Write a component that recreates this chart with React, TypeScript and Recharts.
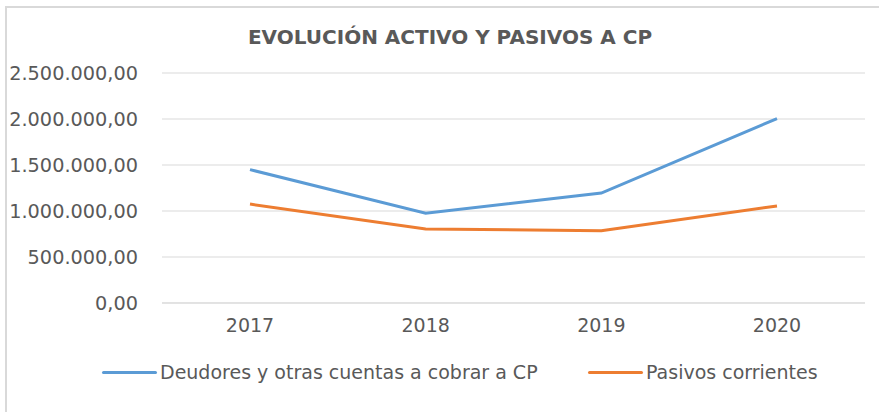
import React from 'react';
import { LineChart, Line, XAxis, YAxis, CartesianGrid } from 'recharts';

const years = ['2017', '2018', '2019', '2020'];
const deudores = [1450000, 975000, 1195000, 2005000];
const pasivos = [1075000, 805000, 785000, 1055000];
const yTicks = [0, 500000, 1000000, 1500000, 2000000, 2500000];

const data = years.map((year, i) => ({
    year,
    deudores: deudores[i],
    pasivos: pasivos[i],
}));

const FONT = '"DejaVu Sans", sans-serif';
const GREY = '#595959';

const formatEs = (v: number) =>
    v.toFixed(2).replace('.', ',').replace(/\B(?=(\d{3})+(?!\d))/g, '.');

const seriesLegend = [
    { label: 'Deudores y otras cuentas a cobrar a CP', color: '#5b9bd5', left: 102 },
    { label: 'Pasivos corrientes', color: '#ed7d31', left: 588 },
];

export default function App() {
    return (
        <div
            style={{
                position: 'fixed', left: 0, top: 0, width: 879, height: 412, background: '#fff', overflow: 'hidden',
            }}
        >
            <div style={{ position: 'absolute', left: 0, top: 0 }}>
                <LineChart
                    width={879}
                    height={412}
                    data={data}
                    margin={{ top: 73, right: 14, bottom: 79, left: 0 }}
                >
                    <CartesianGrid vertical={false} stroke="#d9d9d9" />
                    <XAxis
                        dataKey="year"
                        height={30}
                        padding={{ left: 88, right: 88 }}
                        axisLine={{ stroke: '#d9d9d9' }}
                        tickLine={false}
                        tick={{ fill: GREY, fontSize: 19, fontFamily: FONT }}
                        tickMargin={10}
                    />
                    <YAxis
                        width={162}
                        domain={[0, 2500000]}
                        ticks={yTicks}
                        interval={0}
                        axisLine={false}
                        tickLine={false}
                        tickFormatter={formatEs}
                        tick={{ fill: GREY, fontSize: 19.3, fontFamily: FONT, dx: -16 }}
                    />
                    <Line type="linear" dataKey="deudores" stroke="#5b9bd5" strokeWidth={3} dot={false} isAnimationActive={false} />
                    <Line type="linear" dataKey="pasivos" stroke="#ed7d31" strokeWidth={3} dot={false} isAnimationActive={false} />
                </LineChart>
            </div>
            {/* chart frame, only left and top edges show in the crop */}
            <div
                style={{
                    position: 'absolute', left: 5, top: 6, width: 900, height: 430,
                    borderLeft: '2px solid #d9d9d9', borderTop: '2px solid #d9d9d9', pointerEvents: 'none',
                }}
            />
            <div
                style={{
                    position: 'absolute', top: 25, left: 0, width: 900, textAlign: 'center',
                    fontFamily: FONT, fontWeight: 'bold', fontSize: 20, color: GREY,
                }}
            >
                EVOLUCIÓN ACTIVO Y PASIVOS A CP
            </div>
            {seriesLegend.map((s) => (
                <div
                    key={s.label}
                    style={{
                        position: 'absolute', left: s.left, top: 360, height: 24,
                        display: 'flex', alignItems: 'center', fontFamily: FONT,
                    }}
                >
                    <span style={{ width: 55, height: 3, background: s.color, borderRadius: 2, marginRight: 3 }} />
                    <span style={{ fontSize: 19, color: GREY, whiteSpace: 'nowrap' }}>{s.label}</span>
                </div>
            ))}
        </div>
    );
}
